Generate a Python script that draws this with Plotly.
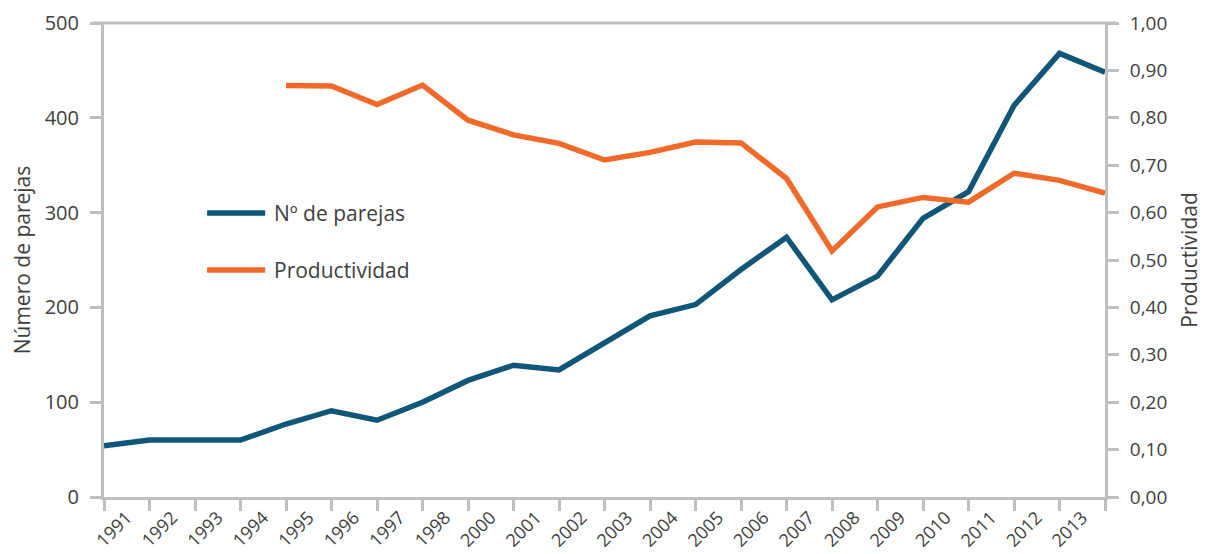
import plotly.graph_objects as go

# ---- data ----
year_labels = ["1991", "1992", "1993", "1994", "1995", "1996", "1997", "1998",
               "2000", "2001", "2002", "2003", "2004", "2005", "2006", "2007",
               "2008", "2009", "2010", "2011", "2012", "2013"]
parejas = [54, 60, 60, 60, 77, 91, 81, 100, 123, 139, 134, 163, 191, 203, 240,
           274, 208, 233, 294, 322, 413, 468, 448]
productividad = [None, None, None, None, 0.868, 0.867, 0.828, 0.869, 0.795, 0.764,
                 0.746, 0.711, 0.727, 0.749, 0.747, 0.672, 0.519, 0.612, 0.632,
                 0.622, 0.683, 0.668, 0.641]
name_parejas = "Nº de parejas"
name_prod = "Productividad"
left_title = "Número de parejas"
right_title = "Productividad"

points = list(range(len(parejas)))
label_pos = [i + 0.5 for i in range(len(year_labels))]

BLUE = "#0f5677"
ORANGE = "#f26a2a"
AXIS = "#bfbfbf"
TXT = "#404040"
FONT = "Open Sans"

fig = go.Figure()
fig.add_trace(go.Scatter(x=points, y=parejas, mode="lines", name=name_parejas,
                         line=dict(color=BLUE, width=5.5), showlegend=False,
                         yaxis="y"))
fig.add_trace(go.Scatter(x=points, y=productividad, mode="lines", name=name_prod,
                         line=dict(color=ORANGE, width=5.5), showlegend=False,
                         yaxis="y2"))

fig.update_layout(
    width=1201, height=546,
    margin=dict(l=96, r=104, t=15, b=57, autoexpand=False),
    paper_bgcolor="white", plot_bgcolor="white",
    separators=",.",
    font=dict(family=FONT, size=19, color=TXT),
    xaxis=dict(
        range=[0, len(parejas) - 1], automargin=False,
        tickmode="array", tickvals=label_pos, ticktext=year_labels,
        tickangle=-45, ticks="", showgrid=False, zeroline=False,
        showline=True, linecolor=AXIS, linewidth=3,
        tickfont=dict(size=18, color=TXT),
        minor=dict(tickmode="array", tickvals=points, ticks="outside",
                   ticklen=11, tickwidth=3, tickcolor=AXIS, showgrid=False),
    ),
    yaxis=dict(
        range=[0, 500], automargin=False,
        tickmode="array", tickvals=[0, 100, 200, 300, 400, 500],
        ticks="outside", ticklen=11, tickwidth=3, tickcolor=AXIS,
        ticklabelstandoff=7,
        showline=True, linecolor=AXIS, linewidth=3,
        showgrid=False, zeroline=False,
        tickfont=dict(size=20, color=TXT),
        title=dict(text=left_title, font=dict(size=21, color=TXT), standoff=10),
    ),
    yaxis2=dict(
        range=[0, 1], overlaying="y", side="right", automargin=False,
        tickmode="array", tickvals=[i / 10 for i in range(11)], tickformat=".2f",
        ticks="outside", ticklen=11, tickwidth=3, tickcolor=AXIS,
        ticklabelstandoff=7,
        showline=True, linecolor=AXIS, linewidth=3,
        showgrid=False, zeroline=False,
        tickfont=dict(size=19, color=TXT),
        title=dict(text=right_title, font=dict(size=21, color=TXT), standoff=16),
    ),
)

# top border line of the plot area (extends over tick marks)
fig.add_shape(type="line", xref="paper", yref="paper", x0=-0.011, x1=1.011,
              y0=1, y1=1, line=dict(color=AXIS, width=3), layer="below")

# custom legend
legend_items = [(name_parejas, BLUE, 0.599), (name_prod, ORANGE, 0.479)]
for name, color, yy in legend_items:
    fig.add_shape(type="line", xref="paper", yref="paper", x0=0.103, x1=0.161,
                  y0=yy, y1=yy, line=dict(color=color, width=5.5))
    fig.add_annotation(xref="paper", yref="paper", x=0.168, y=yy, text=name,
                       showarrow=False, xanchor="left", yanchor="middle",
                       font=dict(size=21, color=TXT, family=FONT))

fig.write_html("out.html")
